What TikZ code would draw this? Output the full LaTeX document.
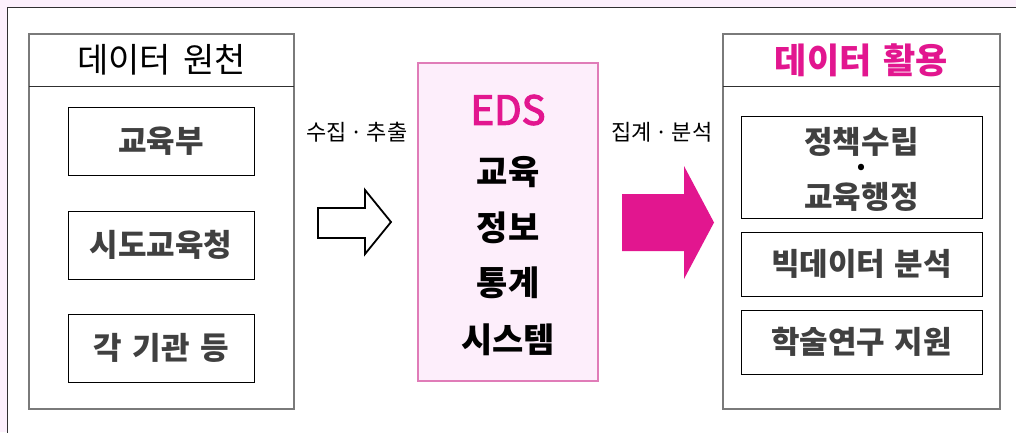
\documentclass[tikz,border=0pt]{standalone}
\usepackage{fontspec}
\setmainfont{Noto Sans CJK KR}
\newfontfamily\edsmed[FakeBold=3]{Noto Sans CJK KR}
\definecolor{bgpink}{HTML}{FCF0FC}
\definecolor{framec}{HTML}{303030}
\definecolor{colgray}{HTML}{7A7A7A}
\definecolor{txtgray}{HTML}{404040}
\definecolor{mag}{HTML}{E2168F}
\definecolor{edsfill}{HTML}{FDEEFB}
\definecolor{edsline}{HTML}{E07CB8}
\tikzset{
  colbox/.style={draw=colgray, line width=1.2pt, fill=white, rectangle, inner sep=0pt},
  itembox/.style={draw=black, line width=1pt, rectangle, inner sep=0pt, align=center,
     text=txtgray, font=\fontsize{31}{36}\selectfont\bfseries},
  lbl/.style={font=\fontsize{22}{26}\selectfont, text=black},
  edsword/.style={font=\fontsize{34}{38}\selectfont\bfseries, text=black},
}
\begin{document}
\begin{tikzpicture}[x=1pt,y=-1pt]
\useasboundingbox (0,0) rectangle (1016,432);
\fill[bgpink] (0,0) rectangle (1016,432);
\fill[white] (7.5,7.5) rectangle (1030,445);
\draw[framec, line width=1.2pt] (1030,7.5) -- (7.5,7.5) -- (7.5,445);
% left column
\node[colbox, minimum width=265pt, minimum height=375pt] (left) at (161.5,221.5) {};
\coordinate (ldl) at (29,86); \coordinate (ldr) at (294,86);
\draw[framec, line width=1pt] (ldl) -- (ldr);
\node[font=\fontsize{34}{38}\selectfont, text=black] (lhead) at (161.5,60) {데이터\hspace{0.35em}원천};
\node[itembox, minimum width=186pt, minimum height=68pt] (moe) at (161,141) {교육부};
\node[itembox, minimum width=186pt, minimum height=68pt] (sido) at (161,245) {시도교육청};
\node[itembox, minimum width=186pt, minimum height=68pt] (etc) at (161,348) {각\hspace{0.35em}기관\hspace{0.35em}등};
% right column
\node[colbox, minimum width=277pt, minimum height=375pt] (right) at (861.5,221.5) {};
\coordinate (rdl) at (723,86); \coordinate (rdr) at (1000,86);
\draw[framec, line width=1pt] (rdl) -- (rdr);
\node[font=\fontsize{35}{40}\selectfont\bfseries, text=mag] (rhead) at (861.5,60) {데이터\hspace{0.35em}활용};
\node[itembox, minimum width=241pt, minimum height=102pt] (policy) at (861.5,167) {};
\node[itembox, draw=none] (p1) at (861.5,142) {정책수립};
\node[itembox, draw=none, font=\fontsize{20}{24}\selectfont\bfseries, text=black] (p2) at (861.5,169) {•};
\node[itembox, draw=none] (p3) at (861.5,197) {교육행정};
\node[itembox, minimum width=241pt, minimum height=64pt] (big) at (861.5,264) {빅데이터\hspace{0.3em}분석};
\node[itembox, minimum width=241pt, minimum height=64pt] (acad) at (861.5,342) {학술연구\hspace{0.3em}지원};
% EDS box
\node[draw=edsline, fill=edsfill, line width=1.2pt, rectangle, minimum width=180pt, minimum height=318pt] (eds) at (508,222) {};
\node[font=\fontsize{40}{44}\selectfont\edsmed, text=mag] (edst) at (508,110) {EDS};
\node[edsword] (e1) at (508,172) {교육};
\node[edsword] (e2) at (508,228) {정보};
\node[edsword] (e3) at (508,283) {통계};
\node[edsword] (e4) at (508,340) {시스템};
% labels
\node[lbl] (collect) at (357,132) {수집\,·\,추출};
\node[lbl] (agg) at (662,132) {집계\,·\,분석};
% white arrow
\draw[black, line width=1.8pt, fill=white, line join=miter]
  (318,208) -- (365,208) -- (365,190) -- (391,222) -- (365,254) -- (365,238) -- (318,238) -- cycle;
% magenta arrow
\fill[mag] (622,194) -- (684,194) -- (684,166) -- (714,222.5) -- (684,279) -- (684,251) -- (622,251) -- cycle;
\end{tikzpicture}
\end{document}
